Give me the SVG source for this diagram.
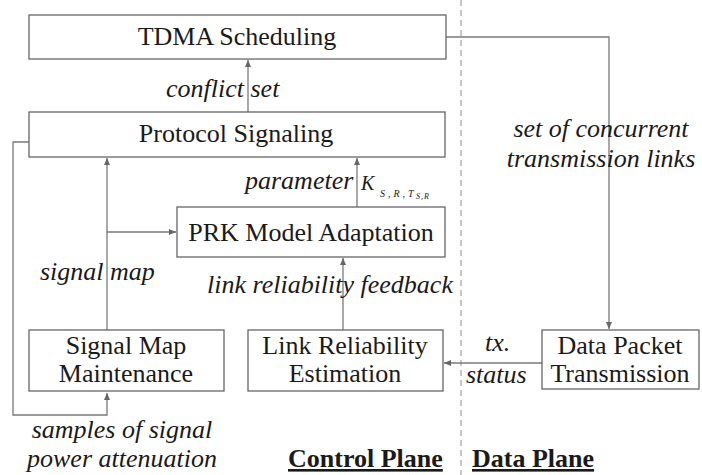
<svg xmlns="http://www.w3.org/2000/svg" width="702" height="475" viewBox="0 0 702 475">
<style>
.box{fill:#fff;stroke:#666;stroke-width:1.3}
.t{font-family:"Liberation Serif","Times New Roman",serif;font-size:26px;fill:#1a1a1a}
.c{text-anchor:middle}
.i{font-style:italic}
.b{font-weight:bold;text-decoration:underline}
.ln{fill:none;stroke:#7a7a7a;stroke-width:1.3}
</style>
<defs>
<marker id="ah" markerWidth="8" markerHeight="8" refX="7" refY="4" orient="auto" markerUnits="userSpaceOnUse">
<path d="M0,1 L7,4 L0,7 Z" fill="#666"/>
</marker>
</defs>
<rect width="702" height="475" fill="#fff"/>
<line x1="461" y1="0" x2="461" y2="475" stroke="#aaa" stroke-width="1.3" stroke-dasharray="6,4"/>

<g id="connectors">
<path class="ln" d="M248 112 V60" marker-end="url(#ah)"/>
<path class="ln" d="M446 37 H609 V329" marker-end="url(#ah)"/>
<path class="ln" d="M107 330 V158" marker-end="url(#ah)"/>
<path class="ln" d="M107 232 H176" marker-end="url(#ah)"/>
<path class="ln" d="M357 207 V158" marker-end="url(#ah)"/>
<path class="ln" d="M343 330 V258" marker-end="url(#ah)"/>
<path class="ln" d="M542 363 H444" marker-end="url(#ah)"/>
<path class="ln" d="M29 142 H13 V415 H107 V393" marker-end="url(#ah)"/>
</g>

<g id="tdma">
<rect class="box" x="29" y="15" width="417" height="44"/>
<text class="t c" x="237" y="45">TDMA Scheduling</text>
</g>
<g id="protocol">
<rect class="box" x="29" y="112" width="416" height="45"/>
<text class="t c" x="236" y="142">Protocol Signaling</text>
</g>
<g id="prk">
<rect class="box" x="177" y="207" width="268" height="50"/>
<text class="t c" x="311" y="241">PRK Model Adaptation</text>
</g>
<g id="signalmap">
<rect class="box" x="29" y="330" width="195" height="61"/>
<text class="t c" x="126" y="354">Signal Map</text>
<text class="t c" x="126" y="382">Maintenance</text>
</g>
<g id="linkrel">
<rect class="box" x="248" y="330" width="195" height="61"/>
<text class="t c" x="345" y="354">Link Reliability</text>
<text class="t c" x="345" y="382">Estimation</text>
</g>
<g id="datapacket">
<rect class="box" x="542" y="330" width="157" height="59"/>
<text class="t c" x="620" y="354">Data Packet</text>
<text class="t c" x="620" y="382">Transmission</text>
</g>

<g id="labels">
<text class="t i" x="166" y="97">conflict set</text>
<text class="t i c" x="601" y="137">set of concurrent</text>
<text class="t i c" x="601" y="167">transmission links</text>
<text class="t i" x="245" y="189">parameter</text>
<text class="t i" x="361" y="190" style="font-size:20px">K</text>
<text class="t i" x="380" y="197" style="font-size:10px;letter-spacing:3px">S,R,T</text>
<text class="t i" x="416" y="199" style="font-size:8px;letter-spacing:1px">S,R</text>
<text class="t i" x="40" y="280">signal map</text>
<text class="t i" x="207" y="293">link reliability feedback</text>
<text class="t i" x="485" y="351">tx.</text>
<text class="t i" x="466" y="383">status</text>
<text class="t i c" x="122" y="438">samples of signal</text>
<text class="t i c" x="122" y="467">power attenuation</text>
<text class="t b" x="288" y="467">Control Plane</text>
<text class="t b" x="472" y="467">Data Plane</text>
</g>
</svg>
